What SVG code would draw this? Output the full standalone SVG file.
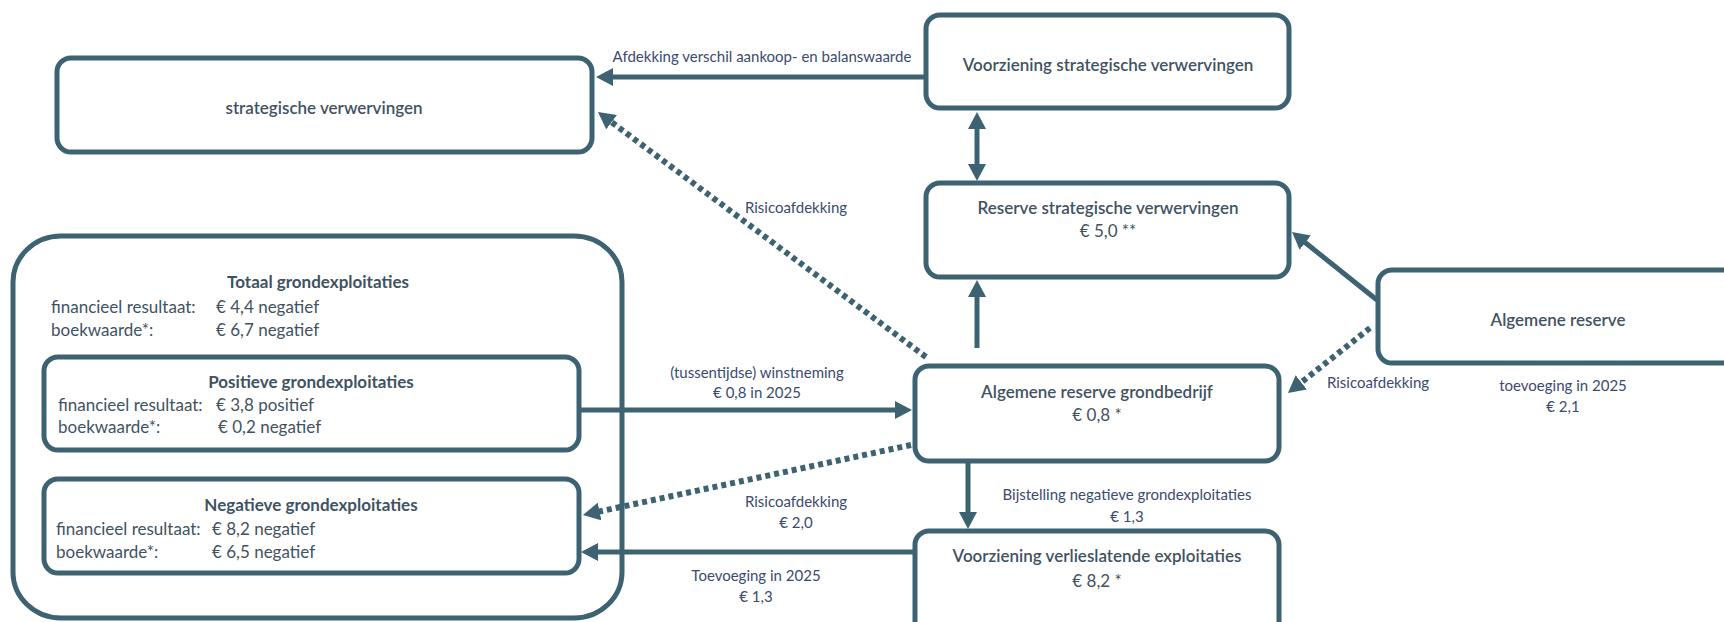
<svg xmlns="http://www.w3.org/2000/svg" width="1724" height="622" viewBox="0 0 1724 622">
<defs>
<style>
.box{fill:#fff;stroke:#3d6373;stroke-width:5}
.t{font-family:Lato,"Liberation Sans",Arial,sans-serif;font-size:17px;fill:#3f5262}
.c{text-anchor:middle}
.b{font-weight:bold}
.m{font-weight:600}
.lbl{font-family:Lato,"Liberation Sans",Arial,sans-serif;font-size:15px;fill:#3b4a70;text-anchor:middle}
.ln{fill:none;stroke:#3d6373;stroke-width:5}
.dot{fill:none;stroke:#3d6373;stroke-width:6;stroke-dasharray:5 4}
</style>
<marker id="ah" markerUnits="userSpaceOnUse" markerWidth="17" markerHeight="18" refX="1" refY="9" orient="auto-start-reverse" viewBox="0 0 17 18">
<path d="M0,0 L17,9 L0,18 z" fill="#3d6373"/>
</marker>
</defs>
<rect width="1724" height="622" fill="#fff"/>

<g id="totaal">
<rect class="box" x="13" y="236" width="609" height="382" rx="48" ry="46"/>
<text class="t b c" x="318" y="288">Totaal grondexploitaties</text>
<text class="t" x="51" y="313">financieel resultaat:</text>
<text class="t" x="216" y="313">€ 4,4 negatief</text>
<text class="t" x="51" y="336">boekwaarde*:</text>
<text class="t" x="216" y="336">€ 6,7 negatief</text>
</g>

<g id="positieve">
<rect class="box" x="44" y="357" width="535" height="93" rx="14"/>
<text class="t b c" x="311" y="388">Positieve grondexploitaties</text>
<text class="t" x="58" y="411">financieel resultaat:</text>
<text class="t" x="216" y="411">€ 3,8 positief</text>
<text class="t" x="58" y="433">boekwaarde*:</text>
<text class="t" x="218" y="433">€ 0,2 negatief</text>
</g>

<g id="negatieve">
<rect class="box" x="44" y="479" width="535" height="94" rx="14"/>
<text class="t b c" x="311" y="511">Negatieve grondexploitaties</text>
<text class="t" x="56" y="535">financieel resultaat:</text>
<text class="t" x="212" y="535">€ 8,2 negatief</text>
<text class="t" x="56" y="558">boekwaarde*:</text>
<text class="t" x="212" y="558">€ 6,5 negatief</text>
</g>

<g id="strategische">
<rect class="box" x="57" y="58" width="535" height="94" rx="14"/>
<text class="t m c" x="324" y="114">strategische verwervingen</text>
</g>

<g id="voorziening-strategisch">
<rect class="box" x="926" y="15" width="363" height="93" rx="14"/>
<text class="t m c" x="1108" y="71">Voorziening strategische verwervingen</text>
</g>

<g id="reserve-strategisch">
<rect class="box" x="926" y="183" width="363" height="94" rx="14"/>
<text class="t m c" x="1108" y="214">Reserve strategische verwervingen</text>
<text class="t c" x="1108" y="237">€ 5,0 **</text>
</g>

<g id="algemene-reserve">
<rect class="box" x="1378" y="270" width="380" height="93" rx="14"/>
<text class="t m c" x="1558" y="326">Algemene reserve</text>
</g>

<g id="algemene-reserve-grondbedrijf">
<rect class="box" x="915" y="366" width="364" height="95" rx="14"/>
<text class="t m c" x="1097" y="398">Algemene reserve grondbedrijf</text>
<text class="t c" x="1097" y="421">€ 0,8 *</text>
</g>

<g id="voorziening-verlieslatend">
<rect class="box" x="915" y="531" width="364" height="110" rx="14"/>
<text class="t m c" x="1097" y="562">Voorziening verlieslatende exploitaties</text>
<text class="t c" x="1097" y="587">€ 8,2 *</text>
</g>

<g id="connectors">
<line class="ln" x1="926" y1="77" x2="612" y2="77" marker-end="url(#ah)"/>
<line class="ln" x1="977" y1="128" x2="977" y2="165" marker-start="url(#ah)" marker-end="url(#ah)"/>
<line class="ln" x1="977" y1="348" x2="977" y2="296" marker-end="url(#ah)"/>
<line class="ln" x1="1377" y1="300" x2="1304.5" y2="242" marker-end="url(#ah)"/>
<line class="dot" x1="1370" y1="328" x2="1300.5" y2="383" marker-end="url(#ah)"/>
<line class="dot" x1="926" y1="357" x2="610.8" y2="121.6" marker-end="url(#ah)"/>
<line class="ln" x1="579" y1="410" x2="896" y2="410" marker-end="url(#ah)"/>
<line class="dot" x1="911" y1="445" x2="598.6" y2="511.7" marker-end="url(#ah)"/>
<line class="ln" x1="968" y1="461" x2="968" y2="513" marker-end="url(#ah)"/>
<line class="ln" x1="915" y1="552" x2="597" y2="552" marker-end="url(#ah)"/>

<text class="lbl" x="762" y="62">Afdekking verschil aankoop- en balanswaarde</text>
<text class="lbl" x="796" y="213">Risicoafdekking</text>
<text class="lbl" x="757" y="378">(tussentijdse) winstneming</text>
<text class="lbl" x="757" y="398">€ 0,8 in 2025</text>
<text class="lbl" x="796" y="507">Risicoafdekking</text>
<text class="lbl" x="796" y="528">€ 2,0</text>
<text class="lbl" x="756" y="581">Toevoeging in 2025</text>
<text class="lbl" x="756" y="602">€ 1,3</text>
<text class="lbl" x="1127" y="500">Bijstelling negatieve grondexploitaties</text>
<text class="lbl" x="1127" y="522">€ 1,3</text>
<text class="lbl" x="1378" y="388">Risicoafdekking</text>
<text class="lbl" x="1563" y="391">toevoeging in 2025</text>
<text class="lbl" x="1563" y="412">€ 2,1</text>
</g>
</svg>
